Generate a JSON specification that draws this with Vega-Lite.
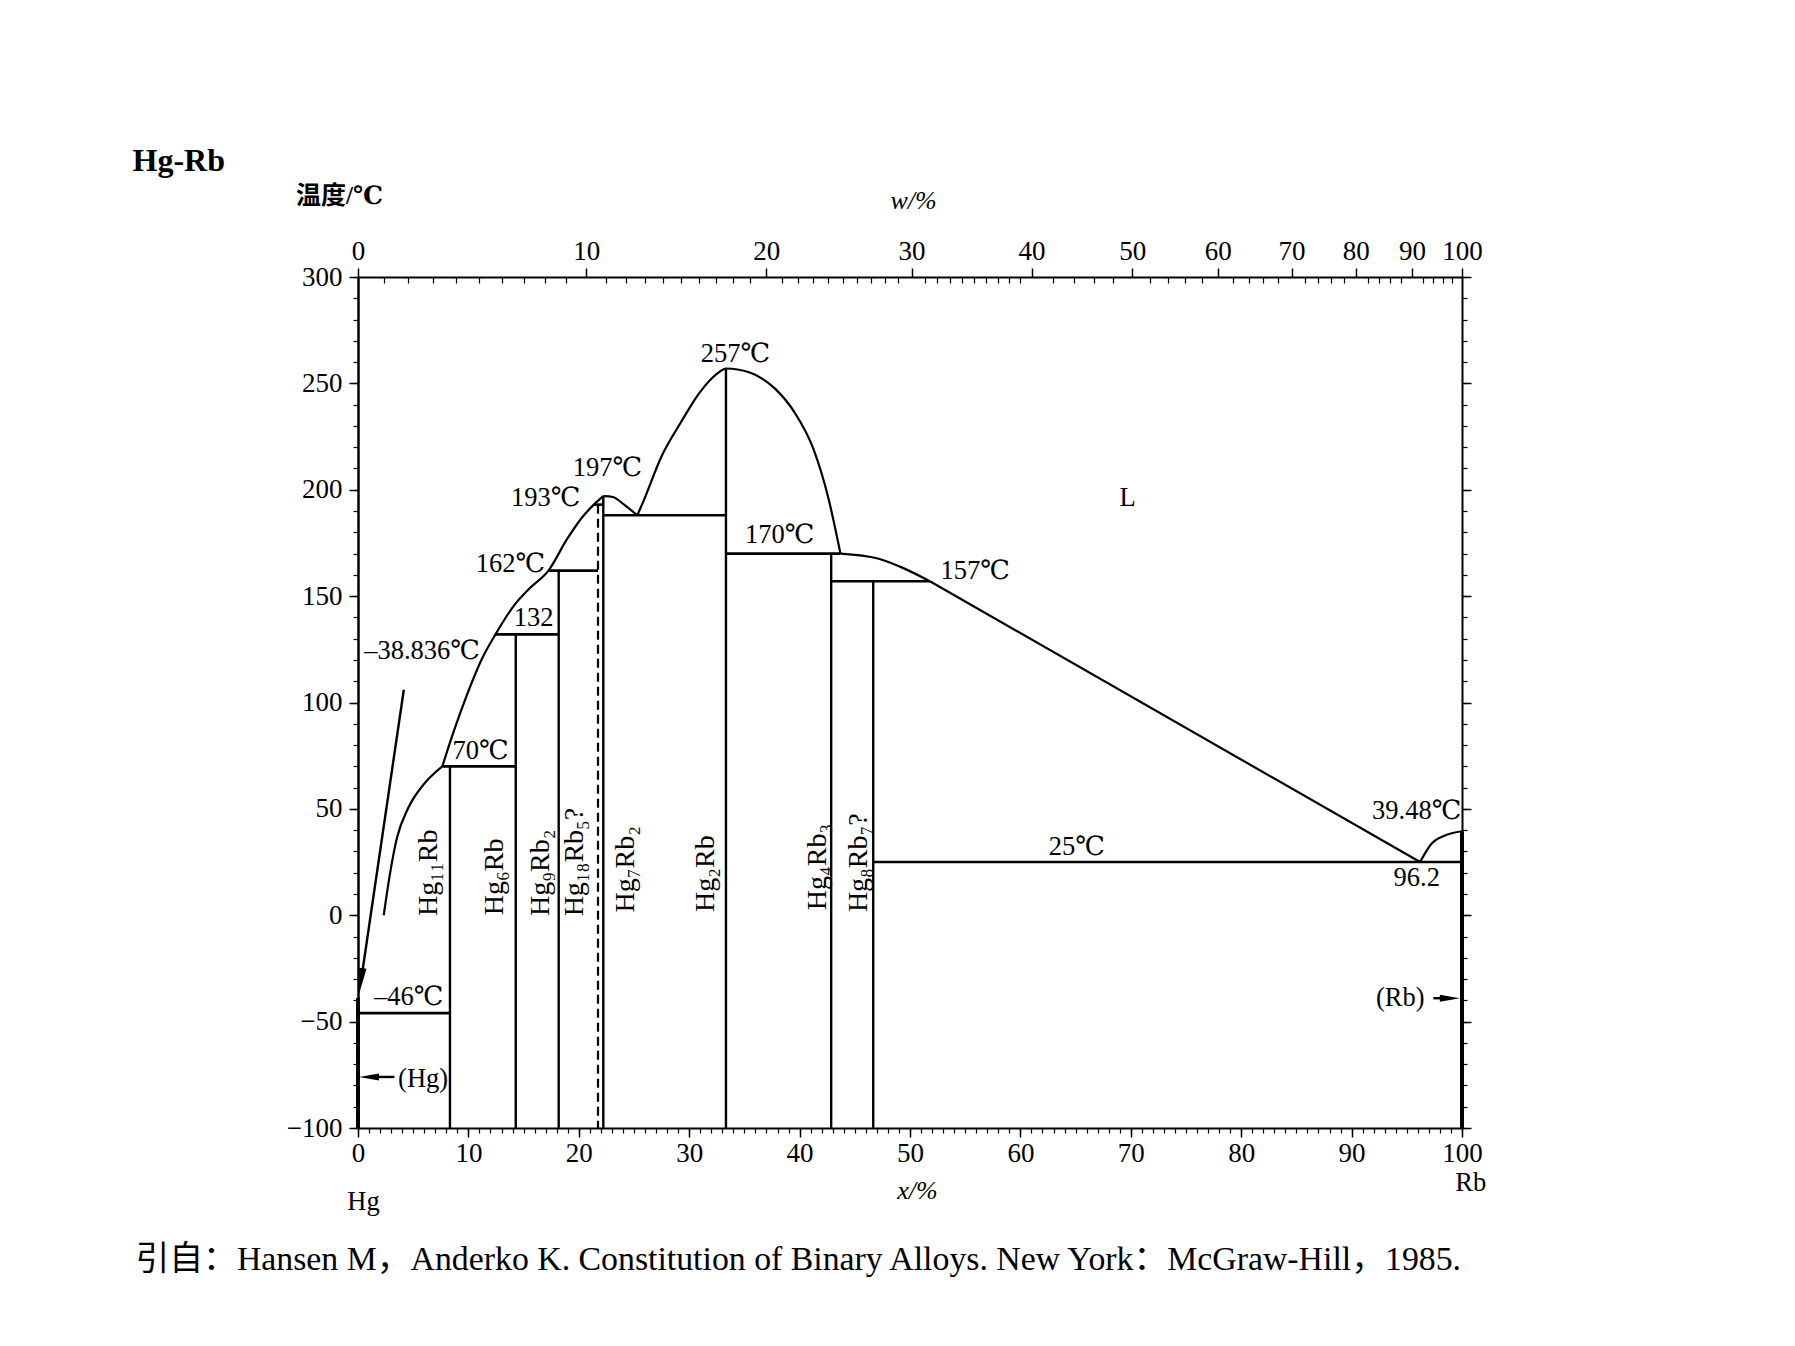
{
  "$schema": "https://vega.github.io/schema/vega-lite/v6.json",
  "width": 1104,
  "height": 851,
  "autosize": "none",
  "padding": {"left": 358, "top": 277, "right": 333, "bottom": 218},
  "background": "white",
  "config": {
    "view": {"stroke": null},
    "axis": {"labelFont": "Liberation Serif", "labelColor": "black", "tickColor": "black", "domainColor": "black", "grid": false, "titleColor": "black", "titleFont": "Liberation Serif, DejaVu Serif, Noto Sans CJK SC", "labelFlush": false, "labelOverlap": false}
  },
  "datasets": {
    "vsolid": [
      {"phase": "Hg11Rb", "x": 8.33, "t1": 70, "t2": -100},
      {"phase": "Hg6Rb", "x": 14.29, "t1": 132, "t2": -100},
      {"phase": "Hg9Rb2", "x": 18.18, "t1": 162, "t2": -100},
      {"phase": "Hg7Rb2", "x": 22.22, "t1": 197, "t2": -100},
      {"phase": "Hg2Rb", "x": 33.33, "t1": 257, "t2": -100},
      {"phase": "Hg4Rb3", "x": 42.86, "t1": 170, "t2": -100},
      {"phase": "Hg8Rb7", "x": 46.67, "t1": 157, "t2": -100}
    ],
    "vdashed": [
      {"phase": "Hg18Rb5", "x": 21.74, "t1": 193, "t2": -100}
    ],
    "velem": [
      {"phase": "(Hg)", "x": 0, "t1": -38.836, "t2": -100},
      {"phase": "(Rb)", "x": 100, "t1": 39.48, "t2": -100}
    ],
    "iso": [
      {"t": -46, "x1": 0, "x2": 8.33},
      {"t": 70, "x1": 7.64, "x2": 14.29},
      {"t": 132, "x1": 12.45, "x2": 18.18},
      {"t": 162, "x1": 17.25, "x2": 21.74},
      {"t": 193, "x1": 21.36, "x2": 22.22},
      {"t": 188, "x1": 22.22, "x2": 33.33},
      {"t": 170, "x1": 33.33, "x2": 43.7},
      {"t": 157, "x1": 42.86, "x2": 51.8},
      {"t": 25, "x1": 46.67, "x2": 100}
    ],
    "liquidus": [
      {"b": "1", "x": 2.33, "t": 0},
      {"b": "1", "x": 2.84, "t": 17.7},
      {"b": "1", "x": 3.53, "t": 36.4},
      {"b": "1", "x": 4.56, "t": 50.5},
      {"b": "1", "x": 5.93, "t": 61.4},
      {"b": "1", "x": 7.64, "t": 70},
      {"b": "2", "x": 7.64, "t": 70},
      {"b": "2", "x": 8.67, "t": 86.4},
      {"b": "2", "x": 9.87, "t": 103.6},
      {"b": "2", "x": 11.25, "t": 120.8},
      {"b": "2", "x": 12.45, "t": 132},
      {"b": "2", "x": 14.16, "t": 145.8},
      {"b": "2", "x": 15.53, "t": 153.6},
      {"b": "2", "x": 17.25, "t": 162},
      {"b": "2", "x": 18.96, "t": 177},
      {"b": "2", "x": 20.33, "t": 187.2},
      {"b": "2", "x": 21.36, "t": 193},
      {"b": "2", "x": 22.22, "t": 197},
      {"b": "3", "x": 22.22, "t": 197},
      {"b": "3", "x": 23.08, "t": 196.6},
      {"b": "3", "x": 24.1, "t": 193},
      {"b": "3", "x": 25.3, "t": 188},
      {"b": "4", "x": 25.3, "t": 188},
      {"b": "4", "x": 25.82, "t": 194.2},
      {"b": "4", "x": 27.53, "t": 216.1},
      {"b": "4", "x": 29.25, "t": 231.7},
      {"b": "4", "x": 30.96, "t": 245.8},
      {"b": "4", "x": 32.68, "t": 255.2},
      {"b": "4", "x": 33.33, "t": 257},
      {"b": "4", "x": 35.42, "t": 255.2},
      {"b": "4", "x": 37.82, "t": 247.3},
      {"b": "4", "x": 39.54, "t": 236.4},
      {"b": "4", "x": 41.25, "t": 219.2},
      {"b": "4", "x": 42.62, "t": 195.8},
      {"b": "4", "x": 43.7, "t": 170},
      {"b": "5", "x": 43.7, "t": 170},
      {"b": "5", "x": 47.08, "t": 167.7},
      {"b": "5", "x": 49.14, "t": 163.75},
      {"b": "5", "x": 51.8, "t": 157},
      {"b": "6", "x": 51.8, "t": 157},
      {"b": "6", "x": 96.2, "t": 25},
      {"b": "7", "x": 96.2, "t": 25},
      {"b": "7", "x": 97.2, "t": 33.4},
      {"b": "7", "x": 98.4, "t": 37.4},
      {"b": "7", "x": 100, "t": 39.48}
    ],
    "arrows": [
      {"a": "mp", "x": 4.15, "t": 106},
      {"a": "mp", "x": 0.27, "t": -31},
      {"a": "Hg", "x": 3.3, "t": -76},
      {"a": "Hg", "x": 1.0, "t": -76},
      {"a": "Rb", "x": 97.4, "t": -39},
      {"a": "Rb", "x": 98.9, "t": -39}
    ],
    "labels": [
      {"text": "257℃", "x": 34.2, "t": 264},
      {"text": "197℃", "x": 22.6, "t": 210},
      {"text": "193℃", "x": 17.0, "t": 196},
      {"text": "162℃", "x": 13.8, "t": 165},
      {"text": "132", "x": 15.9, "t": 139.5},
      {"text": "–38.836℃", "x": 5.8, "t": 124},
      {"text": "70℃", "x": 11.1, "t": 77},
      {"text": "–46℃", "x": 4.6, "t": -38.5},
      {"text": "(Hg)", "x": 5.9, "t": -77},
      {"text": "170℃", "x": 38.2, "t": 178.6},
      {"text": "157℃", "x": 55.9, "t": 162},
      {"text": "L", "x": 69.7, "t": 196},
      {"text": "39.48℃", "x": 95.9, "t": 49},
      {"text": "25℃", "x": 65.1, "t": 32},
      {"text": "96.2", "x": 95.9, "t": 17.3},
      {"text": "(Rb)", "x": 94.4, "t": -39},
      {"text": "Hg", "x": 0.5, "t": -135},
      {"text": "Rb", "x": 100.8, "t": -126}
    ],
    "compounds": [
      {"text": "Hg₁₁Rb", "x": 6.44, "t": 20},
      {"text": "Hg₆Rb", "x": 12.45, "t": 18},
      {"text": "Hg₉Rb₂", "x": 16.56, "t": 20},
      {"text": "Hg₁₈Rb₅?", "x": 19.65, "t": 25},
      {"text": "Hg₇Rb₂", "x": 24.28, "t": 21.6},
      {"text": "Hg₂Rb", "x": 31.48, "t": 19.6},
      {"text": "Hg₄Rb₃", "x": 41.66, "t": 22.7},
      {"text": "Hg₈Rb₇?", "x": 45.37, "t": 24.7}
    ]
  },
  "layer": [
    {
      "data": {"name": "vsolid"},
      "mark": {"type": "rule", "stroke": "black", "strokeWidth": 2.4},
      "encoding": {
        "x": {"field": "x", "type": "quantitative", "scale": {"domain": [0, 100], "nice": false, "zero": false},
          "axis": {"orient": "bottom", "values": [0, 10, 20, 30, 40, 50, 60, 70, 80, 90, 100], "tickSize": 9, "tickWidth": 1.5, "labelFontSize": 27, "labelPadding": 3, "domainWidth": 2, "title": "x/%", "titleX": 559, "titleY": 62, "titleFontSize": 26, "titleFontStyle": "italic", "titleFontWeight": "normal", "titleAlign": "center", "titleBaseline": "middle", "titleAngle": 0}},
        "y": {"field": "t1", "type": "quantitative", "scale": {"domain": [-100, 300], "nice": false, "zero": false},
          "axis": {"orient": "left", "values": [-100, -50, 0, 50, 100, 150, 200, 250, 300], "tickSize": 9, "tickWidth": 1.5, "labelFontSize": 27, "labelPadding": 7, "domainWidth": 2.5, "title": "温度/℃", "titleAngle": 0, "titleX": -19, "titleY": -82, "titleAlign": "center", "titleBaseline": "middle", "titleFontSize": 25, "titleFontWeight": "bold"}},
        "y2": {"field": "t2"}
      }
    },
    {
      "data": {"name": "iso"},
      "mark": {"type": "rule", "stroke": "black", "strokeWidth": 2.6},
      "encoding": {
        "x": {"field": "x1", "type": "quantitative", "scale": {"domain": [0, 100], "nice": false, "zero": false},
          "axis": {"orient": "bottom", "values": [0,1,2,3,4,5,6,7,8,9,10,11,12,13,14,15,16,17,18,19,20,21,22,23,24,25,26,27,28,29,30,31,32,33,34,35,36,37,38,39,40,41,42,43,44,45,46,47,48,49,50,51,52,53,54,55,56,57,58,59,60,61,62,63,64,65,66,67,68,69,70,71,72,73,74,75,76,77,78,79,80,81,82,83,84,85,86,87,88,89,90,91,92,93,94,95,96,97,98,99,100], "tickSize": 5, "tickWidth": 1.2, "labels": false, "domain": false, "title": "引自：Hansen M，Anderko K. Constitution of Binary Alloys. New York：McGraw-Hill，1985.", "titleX": -223, "titleY": 131, "titleAlign": "left", "titleBaseline": "middle", "titleFontSize": 33.8, "titleFontWeight": "normal", "titleAngle": 0}},
        "x2": {"field": "x2"},
        "y": {"field": "t", "type": "quantitative", "scale": {"domain": [-100, 300], "nice": false, "zero": false},
          "axis": {"orient": "left", "values": [-100,-90,-80,-70,-60,-50,-40,-30,-20,-10,0,10,20,30,40,50,60,70,80,90,100,110,120,130,140,150,160,170,180,190,200,210,220,230,240,250,260,270,280,290,300], "tickSize": 5, "tickWidth": 1.2, "labels": false, "domain": false, "title": "Hg-Rb", "titleAngle": 0, "titleX": -226, "titleY": -117, "titleAlign": "left", "titleBaseline": "middle", "titleFontSize": 32, "titleFontWeight": "bold"}}
      }
    },
    {
      "data": {"name": "liquidus"},
      "mark": {"type": "line", "stroke": "black", "strokeWidth": 2.2, "interpolate": "monotone"},
      "encoding": {
        "x": {"field": "x", "type": "quantitative", "scale": {"domain": [0, 100], "nice": false, "zero": false},
          "axis": {"orient": "top", "values": [0, 20.683, 36.977, 50.145, 61.008, 70.121, 77.878, 84.558, 90.374, 95.479, 100], "labelExpr": "format(100*datum.value/(datum.value+2.3469*(100-datum.value)),'.0f')", "tickSize": 9, "tickWidth": 1.5, "labelFontSize": 27, "labelPadding": 3, "domainWidth": 2, "title": "w/%", "titleX": 555, "titleY": -77, "titleFontStyle": "italic", "titleFontSize": 26, "titleFontWeight": "normal", "titleAlign": "center", "titleBaseline": "middle", "titleAngle": 0}},
        "y": {"field": "t", "type": "quantitative", "scale": {"domain": [-100, 300], "nice": false, "zero": false},
          "axis": {"orient": "right", "values": [-100,-90,-80,-70,-60,-50,-40,-30,-20,-10,0,10,20,30,40,50,60,70,80,90,100,110,120,130,140,150,160,170,180,190,200,210,220,230,240,250,260,270,280,290,300], "tickSize": 5, "tickWidth": 1.2, "labels": false, "domainWidth": 2, "title": null}},
        "detail": {"field": "b"}
      }
    },
    {
      "data": {"name": "vdashed"},
      "mark": {"type": "rule", "stroke": "black", "strokeWidth": 2.2, "strokeDash": [9, 5]},
      "encoding": {
        "x": {"field": "x", "type": "quantitative", "scale": {"domain": [0, 100], "nice": false, "zero": false},
          "axis": {"orient": "top", "values": [2.316,4.571,6.767,8.908,10.994,13.029,15.013,16.949,18.839,22.485,24.244,25.963,27.644,29.287,30.893,32.464,34.001,35.505,38.418,39.829,41.212,42.566,43.893,45.193,46.468,47.718,48.943,51.324,52.481,53.617,54.731,55.825,56.899,57.954,58.99,60.008,62.956,64.838,66.658,68.418,71.771,73.369,74.918,76.42,79.292,80.666,82.0,83.298,85.786,86.979,88.14,89.271,91.447,92.493,93.514,94.508,96.427,97.352,98.256,99.138], "tickSize": -6, "tickWidth": 1.2, "labels": false, "domain": false, "title": null}},
        "y": {"field": "t1", "type": "quantitative", "scale": {"domain": [-100, 300], "nice": false, "zero": false},
          "axis": {"orient": "right", "values": [-100, -50, 0, 50, 100, 150, 200, 250, 300], "tickSize": 9, "tickWidth": 1.5, "labels": false, "domain": false, "title": null}},
        "y2": {"field": "t2"}
      }
    },
    {
      "data": {"name": "velem"},
      "mark": {"type": "rule", "stroke": "black", "strokeWidth": 4},
      "encoding": {
        "x": {"field": "x", "type": "quantitative", "axis": null},
        "y": {"field": "t1", "type": "quantitative", "axis": null},
        "y2": {"field": "t2"}
      }
    },
    {
      "data": {"name": "arrows"},
      "mark": {"type": "line", "stroke": "black", "strokeWidth": 2.4},
      "encoding": {
        "x": {"field": "x", "type": "quantitative", "axis": null},
        "y": {"field": "t", "type": "quantitative", "axis": null},
        "detail": {"field": "a"}
      }
    },
    {
      "data": {"values": [{"a": "mp", "x": 0.27, "t": -31}]},
      "mark": {"type": "point", "shape": "M0,1L-0.28,-1L0.28,-1Z", "size": 676, "angle": 8.4, "filled": true, "color": "black", "opacity": 1},
      "encoding": {
        "x": {"field": "x", "type": "quantitative", "axis": null},
        "y": {"field": "t", "type": "quantitative", "axis": null}
      }
    },
    {
      "data": {"values": [{"a": "Hg", "x": 1.0, "t": -76}]},
      "mark": {"type": "point", "shape": "M-1,0L1,-0.35L1,0.35Z", "size": 400, "filled": true, "color": "black", "opacity": 1},
      "encoding": {
        "x": {"field": "x", "type": "quantitative", "axis": null},
        "y": {"field": "t", "type": "quantitative", "axis": null}
      }
    },
    {
      "data": {"values": [{"a": "Rb", "x": 98.9, "t": -39}]},
      "mark": {"type": "point", "shape": "M1,0L-1,-0.35L-1,0.35Z", "size": 400, "filled": true, "color": "black", "opacity": 1},
      "encoding": {
        "x": {"field": "x", "type": "quantitative", "axis": null},
        "y": {"field": "t", "type": "quantitative", "axis": null}
      }
    },
    {
      "data": {"name": "labels"},
      "mark": {"type": "text", "font": "Liberation Serif, DejaVu Serif, Noto Sans CJK SC", "fontSize": 26.5, "align": "center", "baseline": "middle", "color": "black"},
      "encoding": {
        "x": {"field": "x", "type": "quantitative", "axis": null},
        "y": {"field": "t", "type": "quantitative", "axis": null},
        "text": {"field": "text"}
      }
    },
    {
      "data": {"name": "compounds"},
      "mark": {"type": "text", "font": "Liberation Serif, DejaVu Serif, Noto Sans CJK SC", "fontSize": 28, "align": "center", "baseline": "middle", "angle": 270, "color": "black"},
      "encoding": {
        "x": {"field": "x", "type": "quantitative", "axis": null},
        "y": {"field": "t", "type": "quantitative", "axis": null},
        "text": {"field": "text"}
      }
    }
  ],
  "resolve": {"axis": {"x": "independent", "y": "independent"}}
}
